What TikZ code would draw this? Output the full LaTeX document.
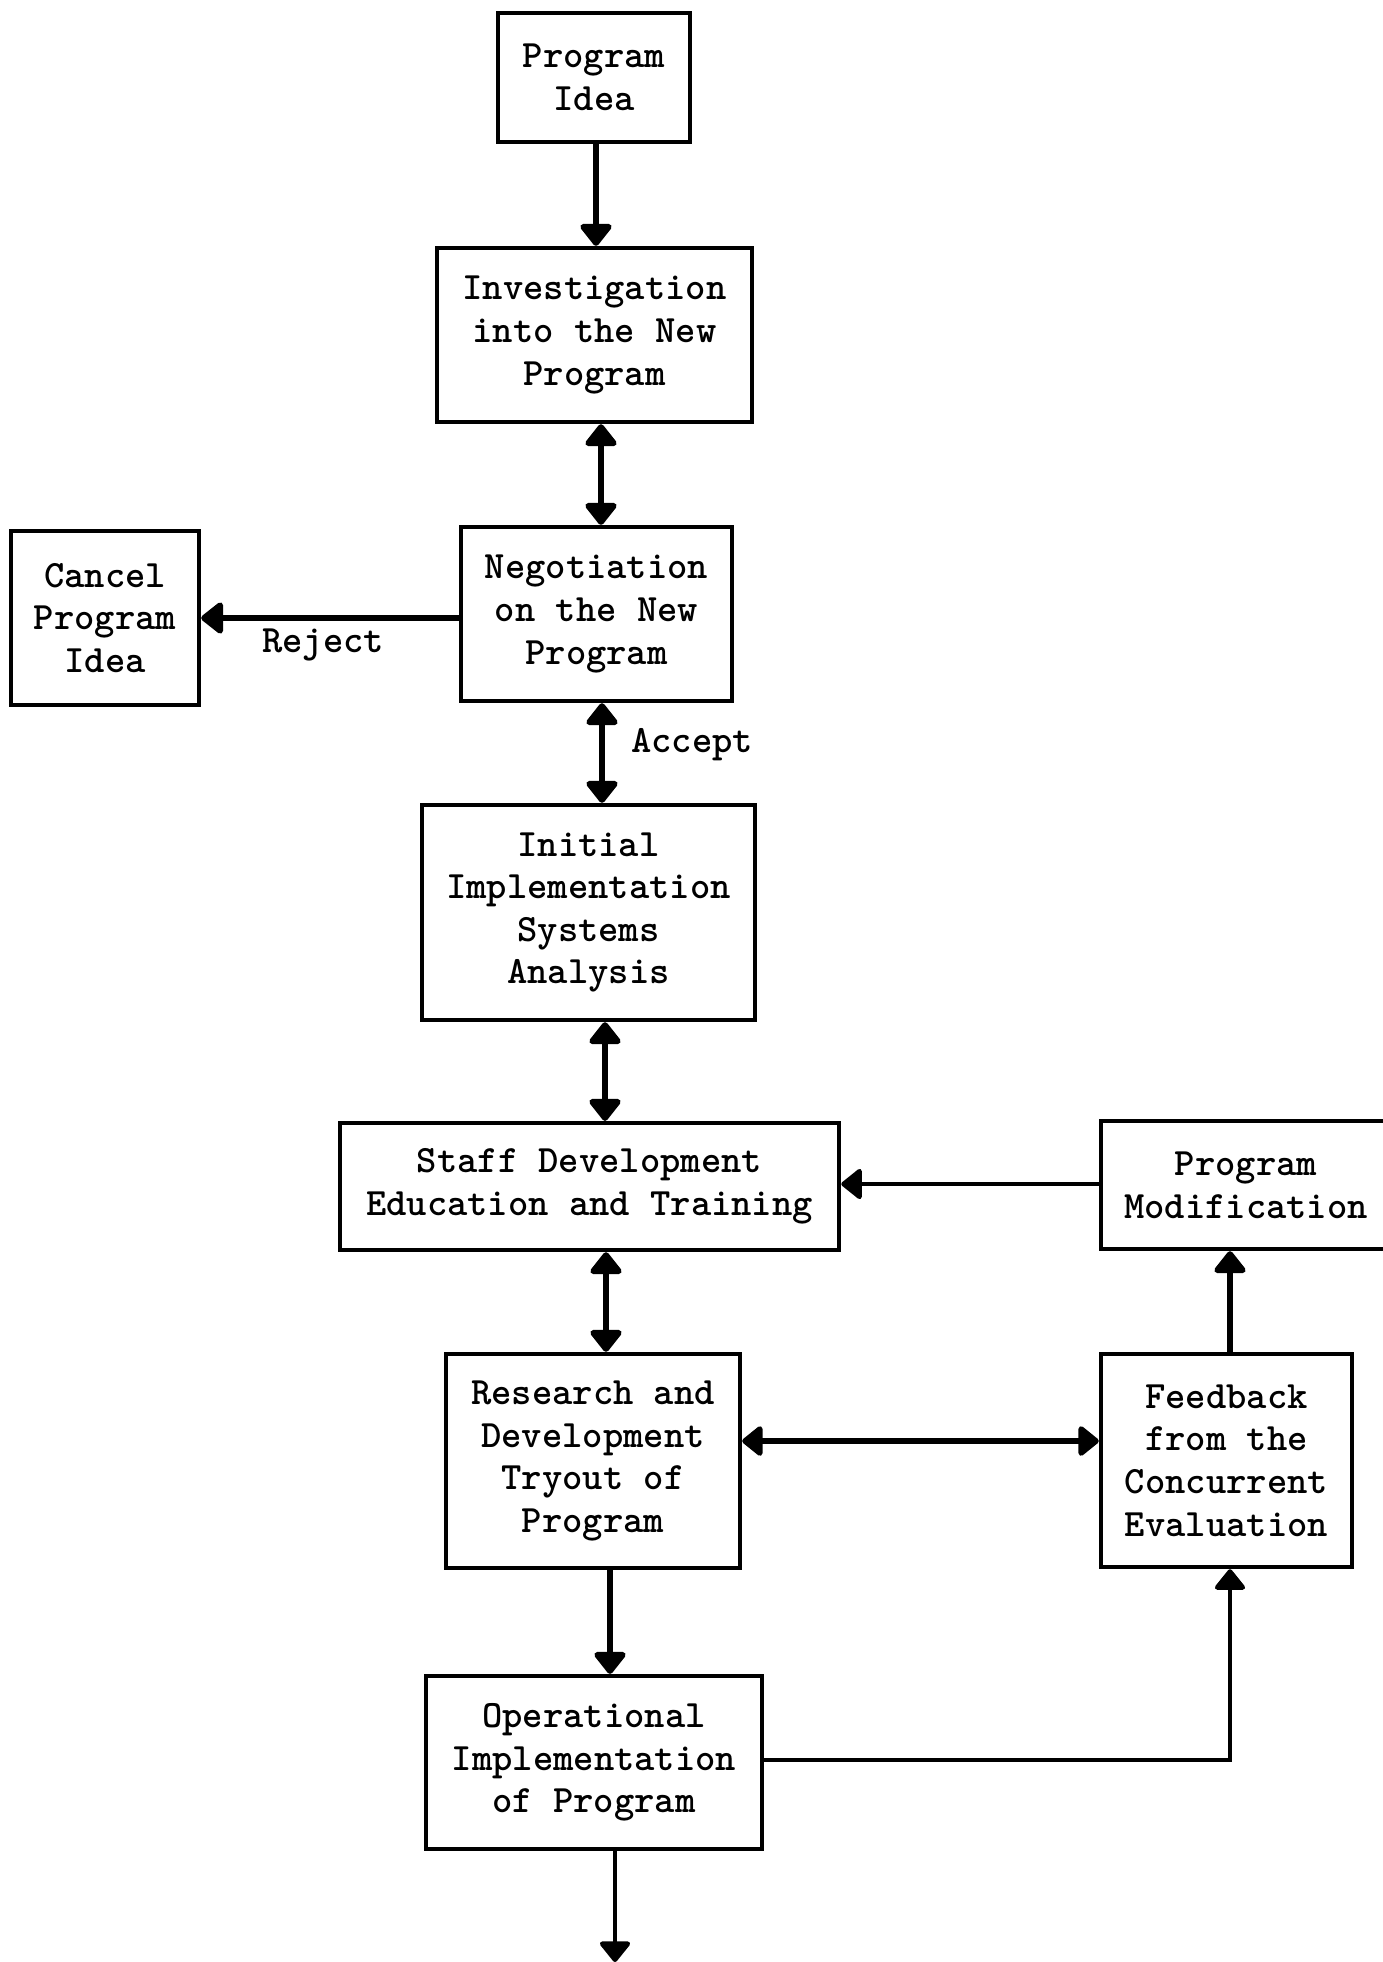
\documentclass[tikz,border=0pt]{standalone}
\usepackage{fontspec}
\usetikzlibrary{arrows.meta}
\begin{document}
\begin{tikzpicture}[x=0.01cm,y=-0.01cm,
  box/.style={draw,line width=1.2pt,inner sep=0pt,align=center,
    font=\ttfamily\bfseries\fontsize{11}{12.1}\selectfont},
  lbl/.style={inner sep=0pt,font=\ttfamily\bfseries\fontsize{11}{12.1}\selectfont},
  arr/.style={line width=1.9pt,-{Triangle[width=0.36cm,length=0.24cm,round]}},
  darr/.style={line width=1.9pt,{Triangle[width=0.36cm,length=0.24cm,round]}-{Triangle[width=0.36cm,length=0.24cm,round]}},
  tarr/.style={line width=1.3pt,-{Triangle[width=0.34cm,length=0.22cm,round]}},
  tdarr/.style={line width=1.5pt,{Triangle[width=0.34cm,length=0.22cm,round]}-{Triangle[width=0.34cm,length=0.22cm,round]}}]
\useasboundingbox (0,0) rectangle (1383,1962);
\fill[white] (0,0) rectangle (1383,1962);

% boxes
\node[box,minimum width=1.92cm,minimum height=1.29cm] (idea) at (594,77.5) {Program\\Idea};
\node[box,minimum width=3.15cm,minimum height=1.74cm] (inv) at (594.5,335) {Investigation\\into the New\\Program};
\node[box,minimum width=2.71cm,minimum height=1.74cm] (neg) at (596.5,614) {Negotiation\\on the New\\Program};
\node[box,minimum width=1.88cm,minimum height=1.74cm] (cancel) at (105,618) {Cancel\\Program\\Idea};
\node[box,minimum width=3.33cm,minimum height=2.15cm] (init) at (588.5,912.5) {Initial\\Implementation\\Systems\\Analysis};
\node[box,minimum width=4.99cm,minimum height=1.27cm] (staff) at (589.5,1186.5) {Staff Development\\Education and Training};
\node[box,minimum width=2.90cm,minimum height=1.28cm] (mod) at (1246,1185) {Program\\Modification};
\node[box,minimum width=2.94cm,minimum height=2.14cm] (rd) at (593,1461) {Research and\\Development\\Tryout of\\Program};
\node[box,minimum width=2.51cm,minimum height=2.13cm] (fb) at (1226.5,1460.5) {Feedback\\from the\\Concurrent\\Evaluation};
\node[box,minimum width=3.36cm,minimum height=1.73cm] (op) at (594,1762.5) {Operational\\Implementation\\of Program};

% connector guide points
\coordinate (c1) at (596,0);
\coordinate (c2) at (601,0);
\coordinate (c3) at (602,0);
\coordinate (c4) at (605,0);
\coordinate (c5) at (606,0);
\coordinate (c6) at (610,0);
\coordinate (c7) at (615,0);
\coordinate (rj) at (0,618);
\coordinate (pm) at (0,1184);
\coordinate (rf) at (0,1441);
\coordinate (fx) at (1230,0);
\coordinate (bend) at (1230,1760);
\coordinate (out) at (615,1962);

% vertical flow
\draw[arr] (idea.south -| c1) -- (inv.north -| c1);
\draw[darr] (inv.south -| c2) -- (neg.north -| c2);
\draw[darr] (neg.south -| c3) -- (init.north -| c3);
\draw[darr] (init.south -| c4) -- (staff.north -| c4);
\draw[darr] (staff.south -| c5) -- (rd.north -| c5);
\draw[arr] (rd.south -| c6) -- (op.north -| c6);
\draw[tarr] (op.south -| c7) -- (out);

% side connectors
\draw[arr] (neg.west |- rj) -- (cancel.east |- rj);
\draw[tarr] (mod.west |- pm) -- (staff.east |- pm);
\draw[tdarr] (rd.east |- rf) -- (fb.west |- rf);
\draw[arr] (fb.north -| fx) -- (mod.south -| fx);
\draw[tarr] (op.east |- bend) -- (bend) -- (fb.south -| fx);

% labels
\node[lbl] (reject) at (323,645) {Reject};
\node[lbl] (accept) at (692,745) {Accept};
\end{tikzpicture}
\end{document}
